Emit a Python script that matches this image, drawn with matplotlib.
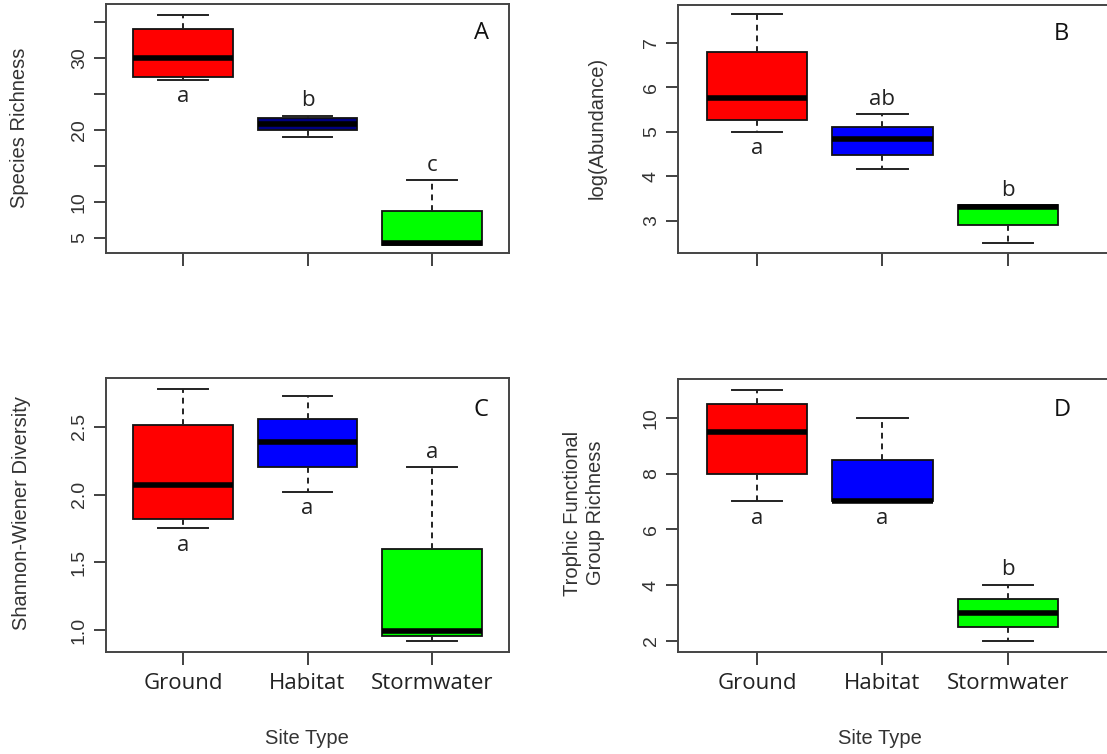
import matplotlib
matplotlib.use("Agg")
import matplotlib.pyplot as plt

# site types on the x axis
sites = ["Ground", "Habitat", "Stormwater"]

# A: species richness (lower whisker, Q1, median, Q3, upper whisker)
rich_lo = [27, 19, 4]
rich_q1 = [27.4, 20.0, 4.0]
rich_med = [30, 20.8, 4.3]
rich_q3 = [34, 21.6, 8.75]
rich_hi = [36, 22, 13]
rich_letters = ["a", "b", "c"]
rich_side = ["below", "above", "above"]

# B: log(abundance)
abund_lo = [5.0, 4.17, 2.49]
abund_q1 = [5.27, 4.48, 2.89]
abund_med = [5.75, 4.83, 3.30]
abund_q3 = [6.8, 5.1, 3.34]
abund_hi = [7.64, 5.39, 3.34]
abund_letters = ["a", "ab", "b"]
abund_side = ["below", "above", "above"]

# C: Shannon-Wiener diversity
shan_lo = [1.75, 2.02, 0.92]
shan_q1 = [1.82, 2.20, 0.955]
shan_med = [2.07, 2.39, 0.99]
shan_q3 = [2.51, 2.555, 1.60]
shan_hi = [2.78, 2.73, 2.2]
shan_letters = ["a", "a", "a"]
shan_side = ["below", "below", "above"]

# D: trophic functional group richness
troph_lo = [7, 7, 2]
troph_q1 = [8, 7, 2.5]
troph_med = [9.5, 7, 3]
troph_q3 = [10.5, 8.5, 3.5]
troph_hi = [11, 10, 4]
troph_letters = ["a", "a", "b"]
troph_side = ["below", "below", "above"]

box_colors = ["#ff0000", "#0000ff", "#00ff00"]
box_colors_a = ["#ff0000", "#000080", "#00ff00"]

fig = plt.figure(figsize=(11.07, 7.54), dpi=100)
W, H = 1107.0, 754.0


def px_axes(left, top, right, bottom):
    return fig.add_axes([left / W, 1 - bottom / H, (right - left) / W, (bottom - top) / H])


def draw_panel(ax, lo, q1, med, q3, hi, colors, letters, sides, ylim, yticks,
               ylabels, xlim, tag, tag_x, show_names, med_color="black"):
    stats = []
    for i in range(len(sites)):
        stats.append({"whislo": lo[i], "q1": q1[i], "med": med[i],
                      "q3": q3[i], "whishi": hi[i], "fliers": []})
    bp = ax.bxp(stats, positions=[1, 2, 3], widths=0.8, patch_artist=True,
                showfliers=False,
                boxprops=dict(edgecolor="#111111", linewidth=1.3),
                medianprops=dict(color="black", linewidth=4, solid_capstyle="butt"),
                whiskerprops=dict(color="#222222", linewidth=1.4, linestyle=(0, (3, 2.5))),
                capprops=dict(color="#222222", linewidth=1.4),
                capwidths=0.4)
    for patch, c in zip(bp["boxes"], colors):
        patch.set_facecolor(c)

    for i, (lab, side) in enumerate(zip(letters, sides)):
        if side == "below":
            ax.annotate(lab, (i + 1, lo[i]), xytext=(0, -12), textcoords="offset points",
                        ha="center", va="center", fontsize=16, color="#222222",
                        family="Open Sans")
        else:
            ax.annotate(lab, (i + 1, hi[i]), xytext=(0, 11), textcoords="offset points",
                        ha="center", va="center", fontsize=16, color="#222222",
                        family="Open Sans")

    ax.set_xlim(xlim)
    ax.set_ylim(ylim)
    ax.set_yticks(yticks)
    ax.set_yticklabels(ylabels, rotation=90, va="center", fontsize=14,
                       color="#333333", family="Liberation Sans")
    ax.set_xticks([1, 2, 3])
    if show_names:
        ax.set_xticklabels(sites, fontsize=16, color="#222222", family="Open Sans")
    else:
        ax.set_xticklabels([])
    ax.tick_params(axis="both", length=9, width=1.3, color="#333333", pad=4)
    ax.tick_params(axis="x", pad=6)
    for s in ax.spines.values():
        s.set_linewidth(1.4)
        s.set_color("#444444")
    ax.text(tag_x, 0.885, tag, transform=ax.transAxes, ha="center", va="center",
            fontsize=17, color="#111111", family="Open Sans")


# panel A
axA = px_axes(106, 4, 509, 253)
draw_panel(axA, rich_lo, rich_q1, rich_med, rich_q3, rich_hi, box_colors_a,
           rich_letters, rich_side, (2.92, 37.5), [5, 10, 15, 20, 25, 30, 35],
           ["5", "10", "", "20", "", "30", ""], (0.38, 3.62), "A", 0.933, False)

# panel B (frame runs past the right edge in the original)
axB = px_axes(678, 5, 1112, 253)
draw_panel(axB, abund_lo, abund_q1, abund_med, abund_q3, abund_hi, box_colors,
           abund_letters, abund_side, (2.27, 7.85), [3, 4, 5, 6, 7],
           ["3", "4", "5", "6", "7"], (0.37, 3.83), "B", 0.883, False)

# panel C
axC = px_axes(106, 378, 509, 652)
draw_panel(axC, shan_lo, shan_q1, shan_med, shan_q3, shan_hi, box_colors,
           shan_letters, shan_side, (0.838, 2.86), [1.0, 1.5, 2.0, 2.5],
           ["1.0", "1.5", "2.0", "2.5"], (0.38, 3.62), "C", 0.93, True)

# panel D
axD = px_axes(678, 379, 1112, 652)
draw_panel(axD, troph_lo, troph_q1, troph_med, troph_q3, troph_hi, box_colors,
           troph_letters, troph_side, (1.6, 11.39), [2, 4, 6, 8, 10],
           ["2", "4", "6", "8", "10"], (0.37, 3.83), "D", 0.885, True)

# axis titles
lab_kw = dict(rotation=90, ha="center", va="center", fontsize=14.5,
              color="#333333", family="Liberation Sans")
fig.text(20 / W, 1 - 128 / H, "Species Richness", **lab_kw)
fig.text(597 / W, 1 - 128 / H, "log(Abundance)", **lab_kw)
fig.text(22 / W, 1 - 513 / H, "Shannon-Wiener Diversity", **lab_kw)
fig.text(584 / W, 1 - 513 / H, "Trophic Functional\nGroup Richness",
         linespacing=1.25, **lab_kw)

fig.text(307 / W, 1 - 738 / H, "Site Type", ha="center", va="center",
         fontsize=14.5, color="#333333", family="Liberation Sans")
fig.text(880 / W, 1 - 738 / H, "Site Type", ha="center", va="center",
         fontsize=14.5, color="#333333", family="Liberation Sans")

fig.savefig("out.png", dpi=100)
